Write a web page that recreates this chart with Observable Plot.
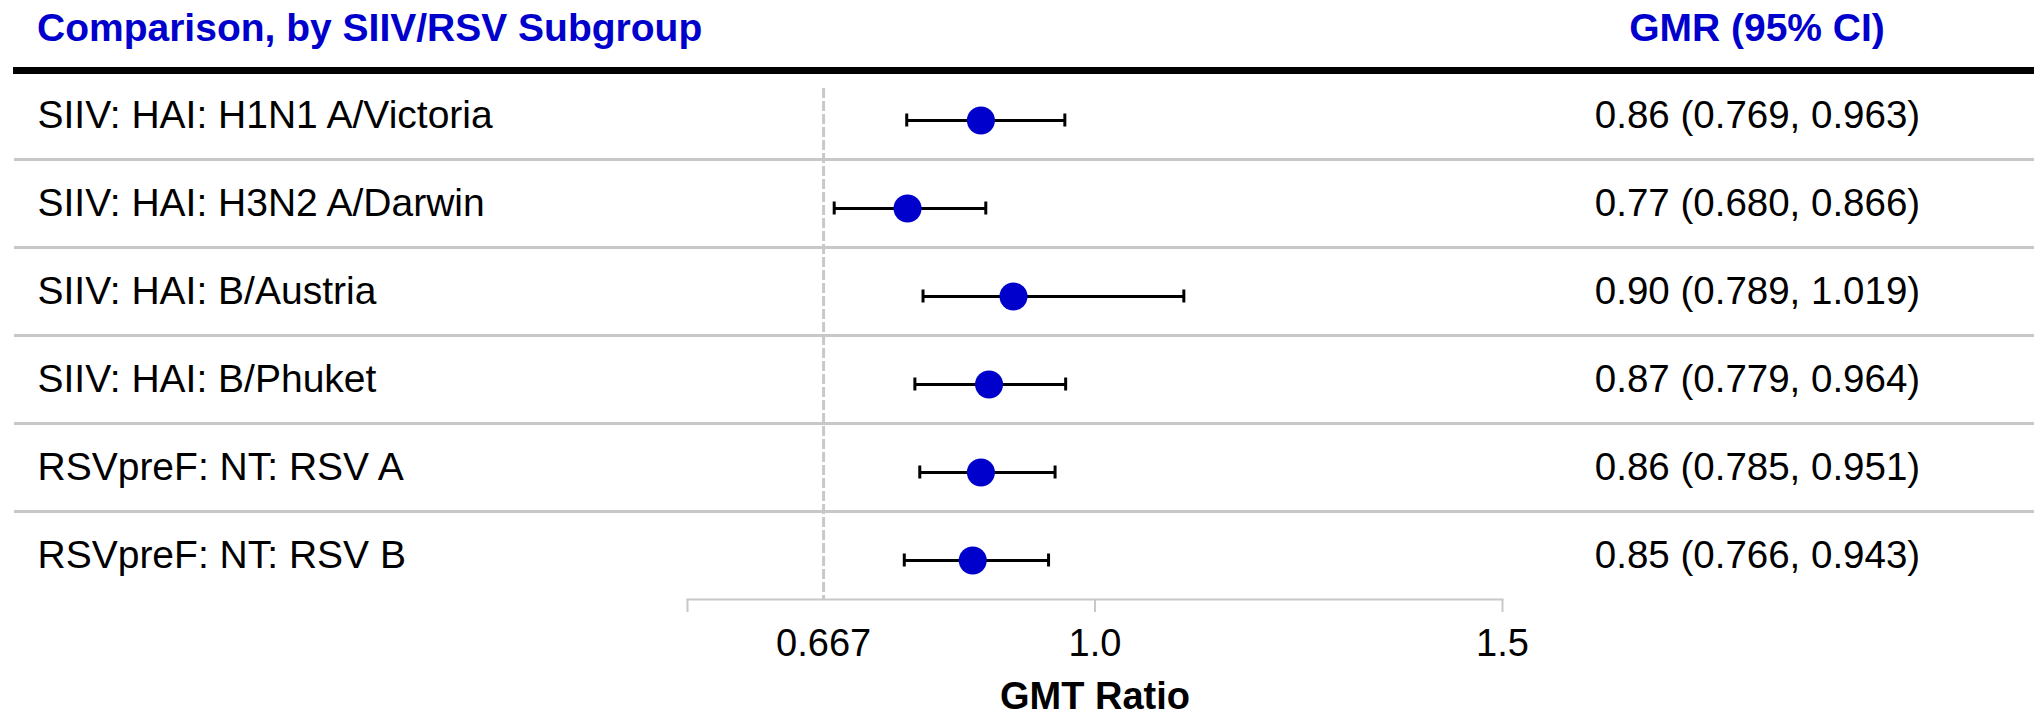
<!DOCTYPE html>
<html>
<head>
<meta charset="utf-8">
<script src="https://cdn.jsdelivr.net/npm/d3@7"></script>
<script src="https://cdn.jsdelivr.net/npm/@observablehq/plot@0.6"></script>
<style>
  html, body { margin: 0; padding: 0; background: #fff; }
  #wrap { width: 2034px; font-family: "Liberation Sans", Arial, sans-serif; }
  #header { position: relative; height: 74px; width: 2034px; }
  .hd { position: absolute; top: 8px; font-weight: bold; font-size: 39px; line-height: 39px; color: #0000CC; white-space: nowrap; }
  #title { left: 37px; }
  #gmrhead { left: 1757px; transform: translateX(-50%); }
  #thick { position: absolute; left: 13px; right: 0; top: 67px; height: 7px; background: #000; }
  svg { display: block; }
</style>
</head>
<body>
<div id="wrap">
  <div id="header">
    <div class="hd" id="title"></div>
    <div class="hd" id="gmrhead"></div>
    <div id="thick"></div>
  </div>
  <div id="chart"></div>
</div>
<script>
// ---- data ----
const titleText = "Comparison, by SIIV/RSV Subgroup";
const valueHeader = "GMR (95% CI)";
const axisLabel = "GMT Ratio";
const subgroups = [
  "SIIV: HAI: H1N1 A/Victoria",
  "SIIV: HAI: H3N2 A/Darwin",
  "SIIV: HAI: B/Austria",
  "SIIV: HAI: B/Phuket",
  "RSVpreF: NT: RSV A",
  "RSVpreF: NT: RSV B"
];
// point estimates and CI ends as drawn in the picture
const gmr   = [0.86, 0.77, 0.90, 0.87, 0.86, 0.85];
const lower = [0.769, 0.680, 0.789, 0.779, 0.785, 0.766];
const upper = [0.963, 0.866, 1.109, 0.964, 0.951, 0.943];
// value column as printed
const valueTexts = [
  "0.86 (0.769, 0.963)",
  "0.77 (0.680, 0.866)",
  "0.90 (0.789, 1.019)",
  "0.87 (0.779, 0.964)",
  "0.86 (0.785, 0.951)",
  "0.85 (0.766, 0.943)"
];
const xDomain = [0.5, 1.5];
const tickValues = [0.5, 1.0, 1.5];
const tickLabelValues = [0.667, 1.0, 1.5];
const tickLabelTexts = ["0.667", "1.0", "1.5"];
const referenceValue = [0.667];

document.getElementById("title").textContent = titleText;
document.getElementById("gmrhead").textContent = valueHeader;

const rows = subgroups.map((s, i) => ({label: s, gmr: gmr[i], lo: lower[i], hi: upper[i], txt: valueTexts[i]}));

const W = 2034, H = 645;
const mL = 687, mR = 532, mB = 120;
const yRange = [-3, 525];
const bw = (yRange[1] - yRange[0]) / subgroups.length;
const blue = "#0000CC", gray = "#c8c8c8";
const font = "Liberation Sans, Arial, sans-serif";
const dotShift = 5;

const chart = Plot.plot({
  width: W,
  height: H,
  marginLeft: mL,
  marginRight: mR,
  marginTop: 0,
  marginBottom: mB,
  style: {fontFamily: font, fontSize: "38px", background: "#fff", color: "#000"},
  x: {domain: xDomain, type: "linear", axis: null},
  y: {type: "band", domain: subgroups, range: yRange, padding: 0, axis: null},
  marks: [
    // row separators
    Plot.ruleY(subgroups.slice(0, -1), {y: d => d, dy: bw / 2, stroke: gray, strokeWidth: 3,
      insetLeft: -(mL - 14), insetRight: -mR}),
    // reference dashed line
    Plot.ruleX(referenceValue, {x: d => d, stroke: gray, strokeWidth: 3, strokeDasharray: "10,3", insetTop: 14}),
    // axis baseline
    Plot.frame({anchor: "bottom", stroke: gray, strokeWidth: 2}),
    // axis ticks
    Plot.axisX({ticks: tickValues, tickSize: 13, tickFormat: () => "", stroke: gray, strokeWidth: 2}),
    // axis tick labels
    Plot.axisX({ticks: tickLabelValues, tickSize: 0, tickPadding: 30,
      tickFormat: d => tickLabelTexts[tickLabelValues.indexOf(d)], fontSize: 38, fill: "#000"}),
    // axis title
    Plot.text([axisLabel], {text: d => d, frameAnchor: "bottom", lineAnchor: "top", dy: 83,
      fontSize: 38, fontWeight: "bold", fill: "#000"}),
    // CI bars
    Plot.ruleY(rows, {y: "label", x1: "lo", x2: "hi", stroke: "#000", strokeWidth: 3, dy: dotShift}),
    Plot.tickX(rows, {x: "lo", y: "label", stroke: "#000", strokeWidth: 3, insetTop: 37.5, insetBottom: 37.5, dy: dotShift}),
    Plot.tickX(rows, {x: "hi", y: "label", stroke: "#000", strokeWidth: 3, insetTop: 37.5, insetBottom: 37.5, dy: dotShift}),
    // points
    Plot.dot(rows, {x: "gmr", y: "label", r: 14, fill: blue, stroke: "none", dy: dotShift}),
    // row labels
    Plot.text(rows, {y: "label", text: "label", frameAnchor: "left", dx: 37 - mL, textAnchor: "start",
      fontSize: 39, fill: "#000"}),
    // value text
    Plot.text(rows, {y: "label", text: "txt",
      frameAnchor: "right", dx: 1757 - (W - mR), textAnchor: "middle", fontSize: 38.5, fill: "#000"})
  ]
});
document.getElementById("chart").appendChild(chart);
</script>
</body>
</html>
